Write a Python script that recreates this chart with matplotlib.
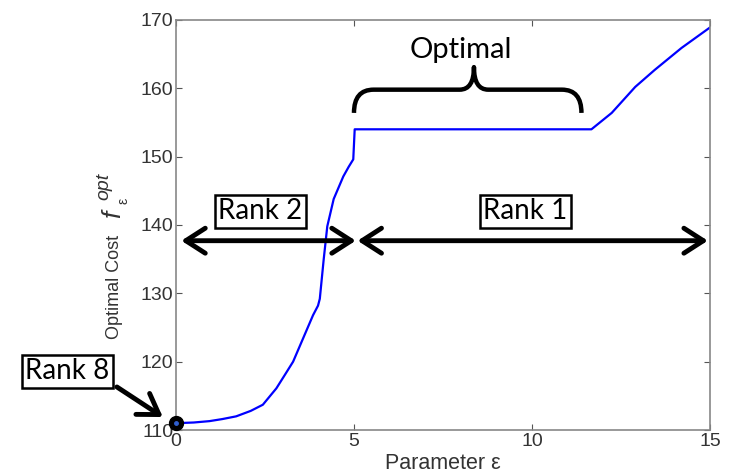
import numpy as np
import matplotlib.pyplot as plt
from matplotlib.path import Path
from matplotlib.patches import PathPatch

plt.rcParams['font.family'] = ['Liberation Sans', 'DejaVu Sans']

# curve
eps = [0, 0.5, 0.94, 1.3, 1.69, 2.1, 2.44, 2.82, 3.05, 3.29, 3.57, 3.85, 3.99,
       4.04, 4.15, 4.25, 4.43, 4.7, 4.85, 4.98, 5.02, 11.67, 12.24, 12.9, 13.45,
       14.2, 15]
cost = [111.0, 111.1, 111.3, 111.6, 112.0, 112.8, 113.7, 116.1, 118.0, 120.0,
        123.4, 126.8, 128.2, 129.2, 135.0, 139.8, 143.8, 147.1, 148.5, 149.6,
        154.0, 154.0, 156.4, 160.2, 162.7, 165.9, 168.9]

xticks = [0, 5, 10, 15]
yticks = [110, 120, 130, 140, 150, 160, 170]

rank_labels = ['Rank 2', 'Rank 1', 'Rank 8']
rank_pos = [(2.37, 142.0), (9.81, 142.0), (-3.06, 118.6)]

fig = plt.figure(figsize=(7.29, 4.75), dpi=100)
ax = fig.add_axes([0.2414, 0.0947, 0.7325, 0.8633])

ax.plot(eps, cost, color='#0000ff', lw=1.6)
ax.plot(eps[0], cost[0], 'o', color='k', ms=10, clip_on=False, zorder=5)
ax.plot(eps[0], cost[0], 'o', color='#3060d0', ms=2.5, clip_on=False, zorder=6)

ax.set_xlim(0, 15)
ax.set_ylim(110, 170)
ax.set_xticks(xticks)
ax.set_yticks(yticks)
ax.tick_params(direction='in', length=4, top=True, right=True, labelsize=14,
               labelcolor='#333333', color='#555555', pad=2)
for s in ax.spines.values():
    s.set_color('#888888')
    s.set_linewidth(1.2)

ax.set_xlabel('Parameter \u03b5', fontsize=15.5, color='#333333', labelpad=2)

# y label built from pieces: text, f, superscript, subscript
W, H = 729, 475
fig.text(114 / W, 1 - 287 / H, 'Optimal Cost', rotation=90, fontsize=13,
         color='#333333', ha='center', va='center')
fig.text(113 / W, 1 - 214 / H, 'f', rotation=90, fontsize=19, style='italic',
         color='#333333', ha='center', va='center')
fig.text(104 / W, 1 - 186 / H, 'opt', rotation=90, fontsize=14, style='italic',
         color='#333333', ha='center', va='center')
fig.text(124 / W, 1 - 201 / H, '\u03b5', rotation=90, fontsize=10,
         color='#333333', ha='center', va='center')

# double arrows
arr = dict(arrowstyle='<->,head_length=0.7,head_width=0.45', lw=3.5, color='k',
           shrinkA=0, shrinkB=0, mutation_scale=20)
ax.annotate('', xy=(5.05, 137.7), xytext=(0.15, 137.7), arrowprops=arr,
            annotation_clip=False)
ax.annotate('', xy=(14.94, 137.7), xytext=(5.1, 137.7), arrowprops=arr,
            annotation_clip=False)

# rank 8 arrow
ax.annotate('', xy=(-0.37, 111.9), xytext=(-1.66, 116.3),
            arrowprops=dict(arrowstyle='->,head_length=0.7,head_width=0.45',
                            lw=3.5, color='k', shrinkA=0, shrinkB=0,
                            mutation_scale=20),
            annotation_clip=False)

for lab, (px, py) in zip(rank_labels, rank_pos):
    ax.text(px, py, lab, fontsize=20, family=['Lato', 'DejaVu Sans'],
            ha='center', va='center', clip_on=False, zorder=7,
            bbox=dict(boxstyle='square,pad=0.12', fc='white', ec='k', lw=1.8))

# brace over the optimal region
x0, x1, xc = 5.0, 11.39, 8.37
yb, yf, yt = 156.4, 159.8, 163.1
verts = [(x0, yb), (x0, yf), (x0 + 0.55, yf),
         (xc - 0.4, yf),
         (xc, yf), (xc, yt),
         (xc, yf), (xc + 0.4, yf),
         (x1 - 0.55, yf),
         (x1, yf), (x1, yb)]
codes = [Path.MOVETO, Path.CURVE3, Path.CURVE3,
         Path.LINETO,
         Path.CURVE3, Path.CURVE3,
         Path.CURVE3, Path.CURVE3,
         Path.LINETO,
         Path.CURVE3, Path.CURVE3]
ax.add_patch(PathPatch(Path(verts, codes), fc='none', ec='k', lw=3.2,
                       capstyle='butt', joinstyle='round'))
ax.text(8.0, 165.6, 'Optimal', fontsize=21, family=['Lato', 'DejaVu Sans'],
        ha='center', va='center')

fig.savefig('out.png', dpi=100)
